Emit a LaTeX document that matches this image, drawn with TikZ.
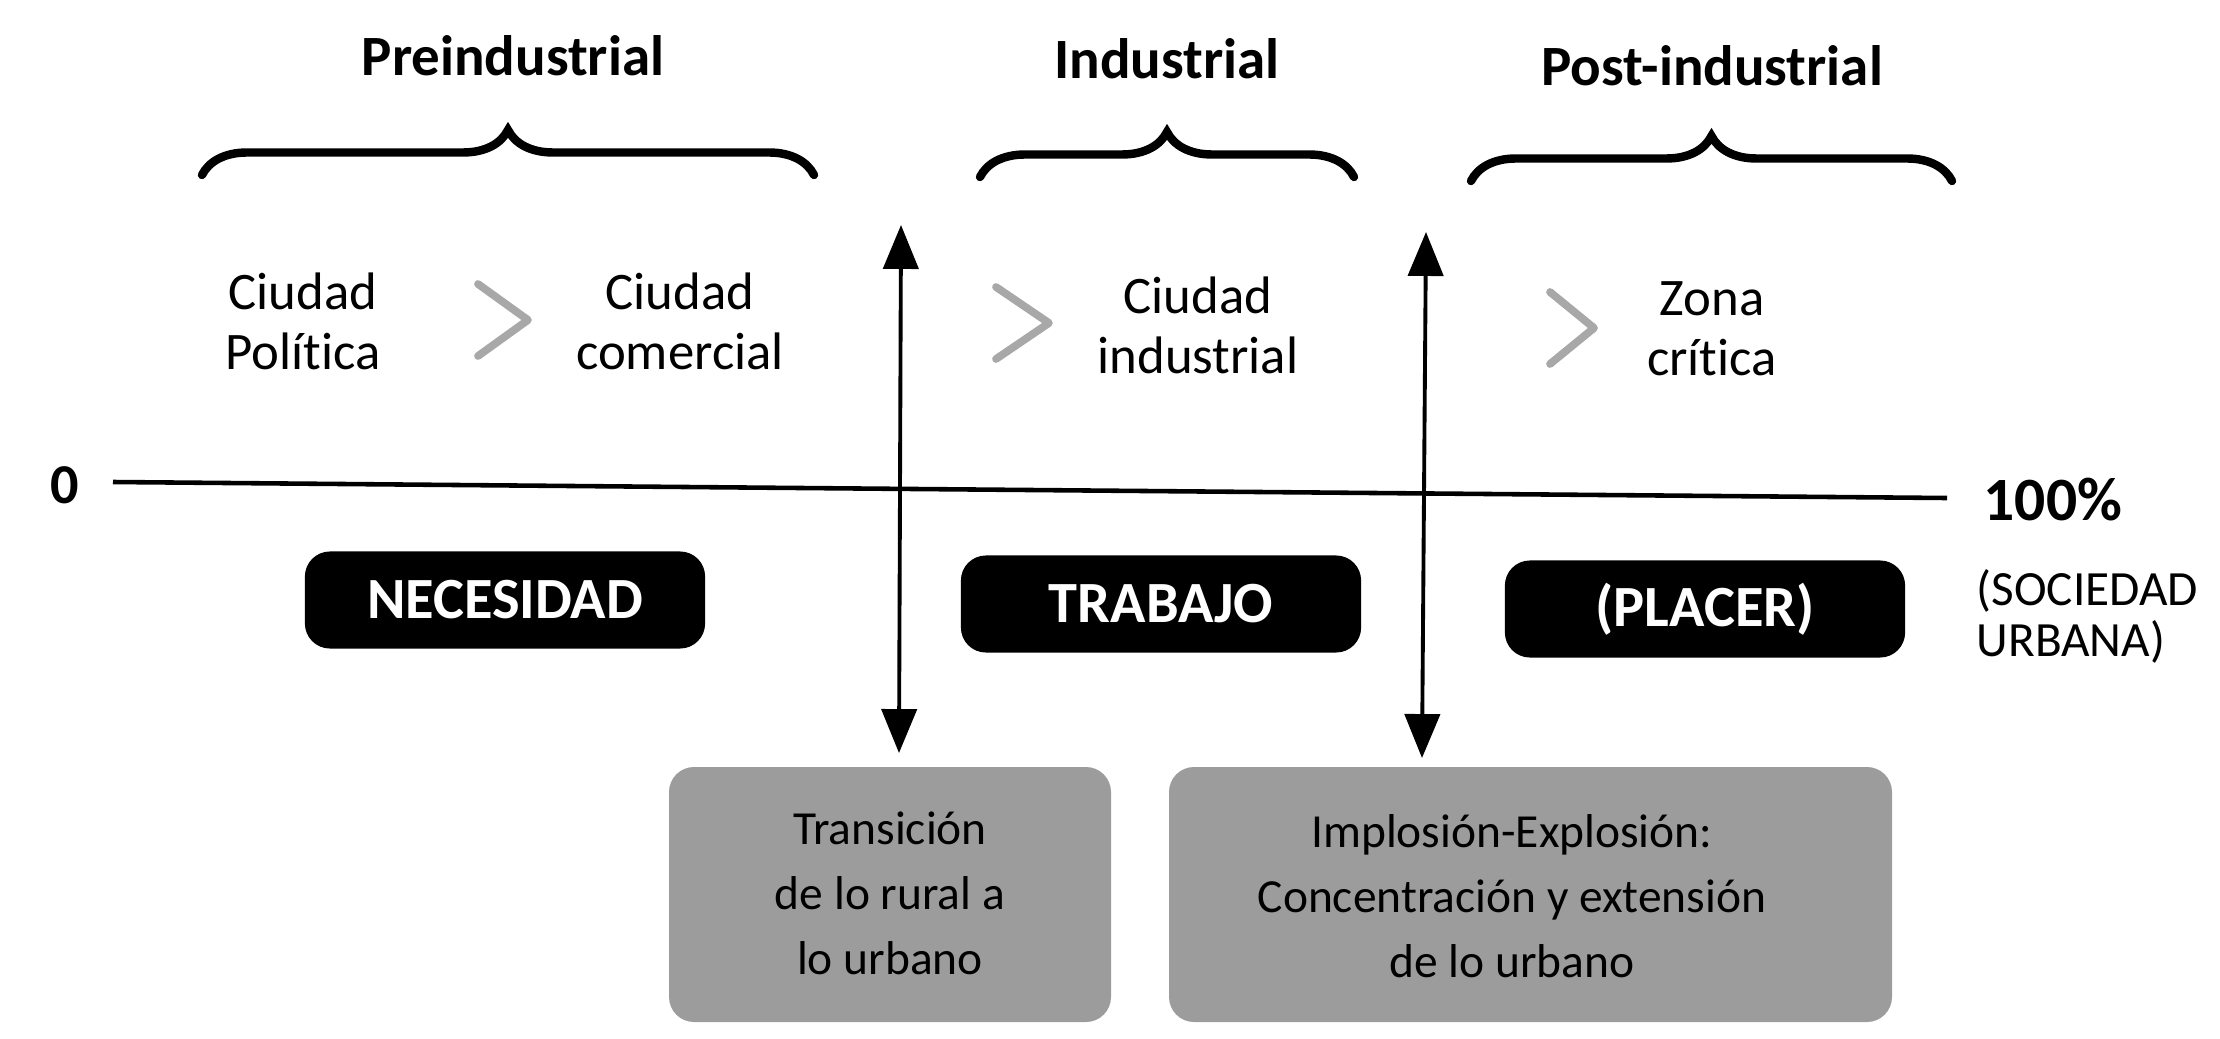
\documentclass[tikz,border=0pt]{standalone}
\usepackage{fontspec}
\setmainfont{Carlito}[RawFeature={-liga;-clig;-dlig}]
\usetikzlibrary{arrows.meta,decorations.pathreplacing}
\definecolor{boxgray}{HTML}{9C9C9C}
\definecolor{chevgray}{HTML}{A8A8A8}
\begin{document}
\begin{tikzpicture}[x=0.01cm,y=-0.01cm,
  period/.style={font=\bfseries\fontsize{16.2}{18}\selectfont, inner sep=0, anchor=base},
  city/.style={font=\fontsize{15}{17}\selectfont, align=center, inner sep=0},
  bracestyle/.style={decorate, decoration={brace, amplitude=0.45cm}, line width=2.4pt, line cap=round},
  chev/.style={draw=chevgray, line width=2.2pt, line cap=round, line join=round},
  axis/.style={line width=1.3pt},
  dblarrow/.style={line width=1.1pt, {Triangle[length=12.5pt,width=10pt]}-{Triangle[length=12.5pt,width=10pt]}},
  valuebox/.style={fill=black, text=white, rounded corners=0.25cm, minimum width=4cm, minimum height=0.97cm, inner sep=0, font=\bfseries\fontsize{16.6}{18}\selectfont},
  graybox/.style={fill=boxgray, rounded corners=0.25cm},
  graytext/.style={font=\fontsize{13.5}{18.5}\selectfont, align=center, inner sep=0},
]
\useasboundingbox (0,0) rectangle (2220,1039);

% period labels
\node[period] (pre) at (513,75) {Preindustrial};
\node[period] (ind) at (1167,78) {Industrial};
\node[period] (post) at (1712,85) {Post-industrial};

% braces
\draw[bracestyle] (202,175) -- (814,175);
\draw[bracestyle] (980,177) -- (1354,177);
\draw[bracestyle] (1471,181) -- (1952,181);

% city labels
\node[city] (cp) at (303,321) {Ciudad\\Polít\kern0pt ica};
\node[city] (cc) at (680,321) {Ciudad\\comercial};
\node[city] (ci) at (1198,325) {Ciudad\\industrial};
\node[city] (zc) at (1712,329) {Zona\\crít\kern0pt ica};

% chevrons
\draw[chev] (478,284) -- (528,320) -- (478,356);
\draw[chev] (996,287) -- (1049,323) -- (996,359);
\draw[chev] (1550,292) -- (1594,328) -- (1550,364);

% axis
\coordinate (axL) at (113,482);
\coordinate (axR) at (1947,498);
\draw[axis] (axL) -- (axR);
\node[font=\bfseries\fontsize{16}{18}\selectfont, inner sep=0] (zero) at (65,485) {0};
\node[font=\bfseries\fontsize{17.5}{19}\selectfont, inner sep=0, anchor=west] (hundred) at (1983,500) {100\%};
\node[font=\fontsize{14}{14.5}\selectfont, align=left, inner sep=0, anchor=north west] (soc) at (1976,569) {(SOCIEDAD\\URBANA)};

% value boxes
\node[valuebox] (nec) at (505,600) {NECESIDAD};
\node[valuebox] (trab) at (1161,604) {TRABAJO};
\node[valuebox] (plac) at (1705,609) {(PLACER)};

% bottom gray boxes
\fill[graybox] (669,767) rectangle (1111,1022);
\fill[graybox] (1169,767) rectangle (1892,1022);
\node[graytext] (trans) at (890,893) {Transición\\de lo rural a\\lo urbano};
\node[graytext] (impl) at (1512,896) {Implosión-Explosión:\\Concentración y extensión\\de lo urbano};

% double arrows
\coordinate (a1t) at (901,225);
\coordinate (a1b) at (899,753);
\coordinate (a2t) at (1426,232);
\coordinate (a2b) at (1422,758);
\draw[dblarrow] (a1t) -- (a1b);
\draw[dblarrow] (a2t) -- (a2b);
\end{tikzpicture}
\end{document}
